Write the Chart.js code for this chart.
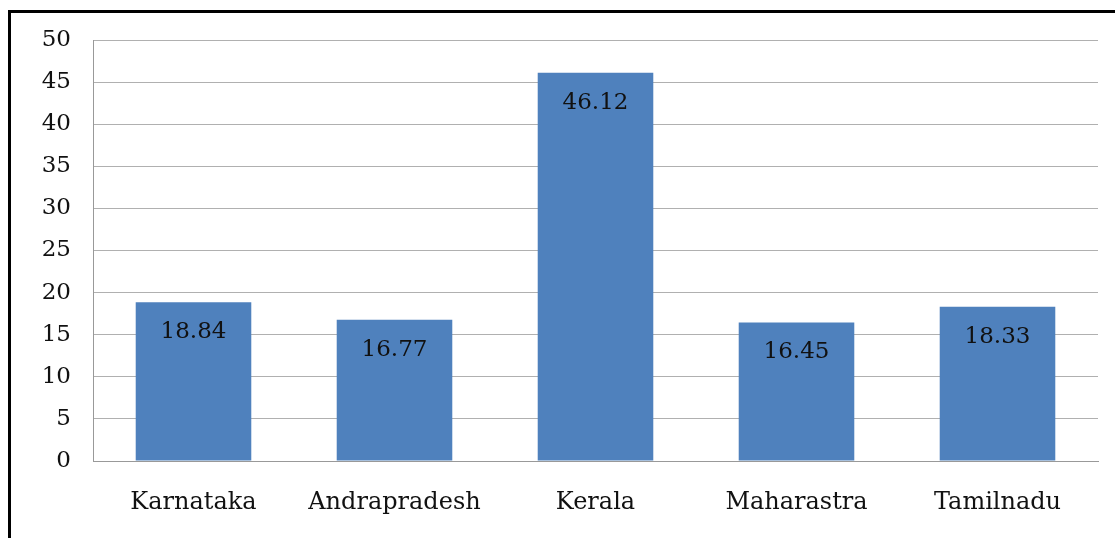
<!DOCTYPE html>
<html>
<head>
<meta charset="utf-8">
<script src="https://cdn.jsdelivr.net/npm/chart.js@4"></script>
<style>
  html, body { margin: 0; padding: 0; background: #fff; overflow: hidden; }
  #frame { position: absolute; left: 8px; top: 10px; width: 1200px; height: 600px; border: 3px solid #000; box-sizing: border-box; }
  #wrap { position: absolute; left: 0; top: 0; width: 1115px; height: 538px; }
</style>
</head>
<body>
<div id="frame"></div>
<div id="wrap"><canvas id="chartCanvas"></canvas></div>
<script>
const states = ['Karnataka', 'Andrapradesh', 'Kerala', 'Maharastra', 'Tamilnadu'];
const values = [18.84, 16.77, 46.12, 16.45, 18.33];
const yTicks = [0, 5, 10, 15, 20, 25, 30, 35, 40, 45, 50];

const fontFamily = '"DejaVu Serif", "Liberation Serif", serif';

// draws the number just below the top of each bar
const barLabels = {
    id: 'barLabels',
    afterDatasetsDraw(chart) {
        const ctx = chart.ctx;
        const meta = chart.getDatasetMeta(0);
        ctx.save();
        ctx.font = '23px ' + fontFamily;
        ctx.fillStyle = '#111';
        ctx.textAlign = 'center';
        ctx.textBaseline = 'middle';
        meta.data.forEach((bar, i) => {
            ctx.fillText(values[i].toFixed(2), bar.x, bar.y + 30);
        });
        ctx.restore();
    }
};

const ctx = document.getElementById('chartCanvas').getContext('2d');
new Chart(ctx, {
    type: 'bar',
    data: {
        labels: states,
        datasets: [{ data: values, backgroundColor: '#4f81bd', categoryPercentage: 1, barPercentage: 0.575 }]
    },
    options: {
        responsive: true,
        maintainAspectRatio: false,
        animation: false,
        layout: { padding: { left: 0, top: 40, right: 17, bottom: 0 } },
        scales: {
            x: {
                grid: { display: false },
                border: { color: '#999' },
                ticks: { color: '#111', font: { family: fontFamily, size: 24 }, padding: 19 },
                afterFit: s => { s.height = 77; }
            },
            y: {
                min: 0,
                max: 50,
                afterBuildTicks: s => { s.ticks = yTicks.map(v => ({ value: v })); },
                grid: { color: '#b0b0b0', drawTicks: false },
                border: { color: '#999' },
                ticks: { color: '#111', font: { family: fontFamily, size: 23 }, padding: 22 },
                afterFit: s => { s.width = 93; }
            }
        },
        plugins: {
            legend: { display: false },
            tooltip: { enabled: false }
        }
    },
    plugins: [barLabels]
});
</script>
</body>
</html>
